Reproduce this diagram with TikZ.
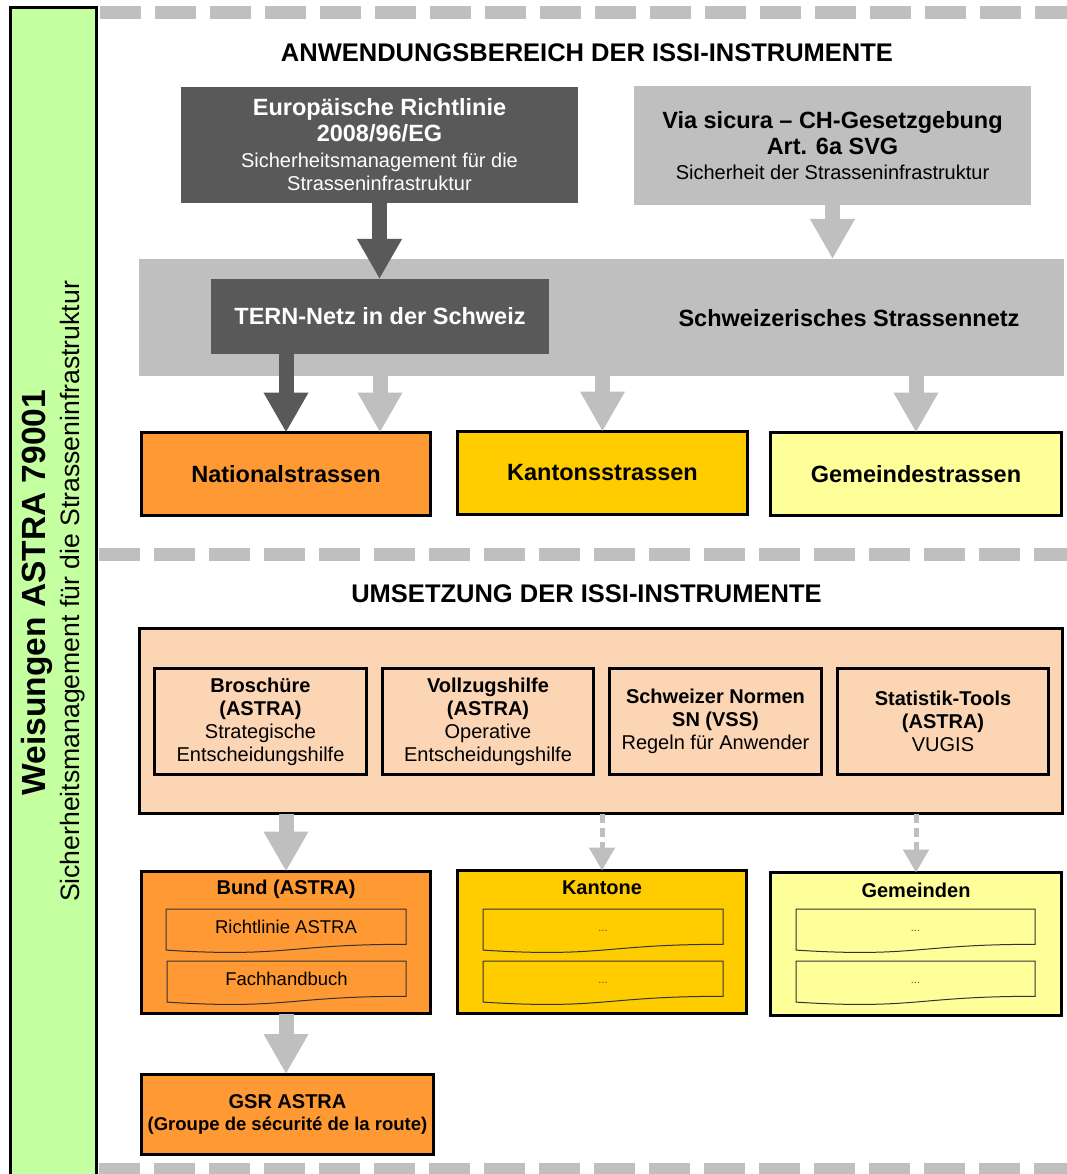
\documentclass[tikz,border=0pt]{standalone}
\usepackage{fontspec}
\setmainfont{Liberation Sans}
\usetikzlibrary{arrows.meta,calc}
\definecolor{darkg}{HTML}{595959}
\definecolor{lightg}{HTML}{BFBFBF}
\definecolor{orng}{HTML}{FF9933}
\definecolor{gold}{HTML}{FFCC00}
\definecolor{lyel}{HTML}{FFFF99}
\definecolor{peach}{HTML}{FCD5B5}
\definecolor{lgreen}{HTML}{C4FFA0}
\newcommand\fs[2]{\fontsize{#1}{#2}\selectfont}
% document shape: name, left x, top y, width, fill, text, text offset
\newcommand\mydoc[7]{%
  \filldraw[fill=#5, draw=black!80, line width=1pt] (#2,#3) -- (#2+#4,#3) -- (#2+#4,#3+35.3)
    .. controls (#2+#4/2,#3+35.3) and (#2+#4/2,#3+48.7) .. (#2,#3+41.1) -- cycle;
  \node[doctext] (#1) at (#2+#4/2,#3+#7) {#6};
}
\begin{document}
\begin{tikzpicture}[x=1pt,y=-1pt,
  box/.style={inner sep=0pt, outer sep=0pt, align=center},
  blk/.style={box, draw=black, line width=3pt},
  bigarrow/.style={line width=15pt, -{Triangle[width=42pt,length=40pt]}},
  thinarrow/.style={line width=5pt, dash pattern=on 9pt off 5pt, -{Triangle[width=25pt,length=23pt]}},
  sepline/.style={line width=13pt, draw=lightg, dash pattern=on 41pt off 14pt},
  titletext/.style={font=\fs{25.5}{30}\bfseries},
  bigtext/.style={font=\fs{23.5}{28}\bfseries},
  smalltext/.style={font=\fs{20}{23}},
  doctext/.style={font=\fs{18.5}{22}},
]
\useasboundingbox (0,0) rectangle (1067,1174);
\fill[white] (0,0) rectangle (1067,1174);

% left green bar
\fill[lgreen] (10,8) rectangle (96,1176);
\draw[line width=3pt] (10,1178) -- (10,8) -- (96,8) -- (96,1178);
\node[rotate=90, font=\fs{33.5}{36}\bfseries] (wtitle) at (37,592.5) {Weisungen ASTRA 79001};
\node[rotate=90, font=\fs{26.6}{30}] (wsub) at (73,591.5) {Sicherheitsmanagement für die Strasseninfrastruktur};

% separators
\draw[sepline] (100,13) -- (1067,13);
\draw[sepline] (99,554.5) -- (1067,554.5);
\draw[sepline] (99,1169) -- (1067,1169);

% ---------- upper part ----------
\node[titletext] (t1) at (587,53) {ANWENDUNGSBEREICH DER ISSI-INSTRUMENTE};

\node[box, fill=darkg, text=white, smalltext, minimum width=397pt, minimum height=116pt] (europ) at (379.5,145)
  {{\fs{23.5}{26}\bfseries Europäische Richtlinie}\\[3pt]{\fs{23.5}{26}\bfseries 2008/96/EG}\\[3pt]Sicherheitsmanagement für die\\Strasseninfrastruktur};
\node[box, fill=lightg, smalltext, minimum width=397pt, minimum height=119pt] (via) at (832.5,145.5)
  {{\fs{23.5}{26}\bfseries Via sicura – CH-Gesetzgebung}\\[3pt]{\fs{23.5}{26}\bfseries Art. 6a SVG}\\[2pt]Sicherheit der Strasseninfrastruktur};

\node[box, fill=lightg, minimum width=925pt, minimum height=117pt] (band) at (601.5,317.5) {};
\node[box, fill=darkg, text=white, bigtext, minimum width=338pt, minimum height=75pt] (tern) at (380,316.5) {TERN-Netz in der Schweiz};
\node[bigtext] (chnet) at (849,318) {Schweizerisches Strassennetz};

\node[blk, fill=orng, bigtext, minimum width=289pt, minimum height=83pt] (nat) at (286,474) {Nationalstrassen};
\node[blk, fill=gold, bigtext, minimum width=290pt, minimum height=83pt] (kant) at (602.5,473) {Kantonsstrassen};
\node[blk, fill=lyel, bigtext, minimum width=291pt, minimum height=83pt] (gem) at (916,474) {Gemeindestrassen};

\draw[bigarrow, darkg] (europ.south) -- (europ.south |- tern.north);
\draw[bigarrow, lightg] (via.south) -- (via.south |- band.north);
\draw[bigarrow, darkg] (tern.south -| nat.north) -- (nat.north);
\draw[bigarrow, lightg] (band.south -| tern.south) -- (nat.north -| tern.south);
\draw[bigarrow, lightg] (band.south -| kant.north) -- (kant.north);
\draw[bigarrow, lightg] (band.south -| gem.north) -- (gem.north);

% ---------- lower part ----------
\node[titletext] (t2) at (586.5,594) {UMSETZUNG DER ISSI-INSTRUMENTE};

\node[blk, fill=peach, minimum width=923pt, minimum height=185pt] (peachbox) at (601,721) {};
\node[blk, fill=peach, smalltext, minimum width=212pt, minimum height=106pt] (b1) at (260.5,721.5)
  {\bfseries Broschüre\\\bfseries (ASTRA)\\Strategische\\Entscheidungshilfe};
\node[blk, fill=peach, smalltext, minimum width=211pt, minimum height=106pt] (b2) at (488,721.5)
  {\bfseries Vollzugshilfe\\\bfseries (ASTRA)\\Operative\\Entscheidungshilfe};
\node[blk, fill=peach, smalltext, minimum width=212pt, minimum height=106pt] (b3) at (715.5,721.5)
  {\bfseries Schweizer Normen\\\bfseries SN (VSS)\\Regeln für Anwender};
\node[blk, fill=peach, smalltext, minimum width=211pt, minimum height=106pt] (b4) at (943,721.5)
  {\bfseries Statistik-Tools\\\bfseries (ASTRA)\\VUGIS};

\node[blk, fill=orng, minimum width=289pt, minimum height=142pt] (bund) at (286,942.5) {};
\node[blk, fill=gold, minimum width=289pt, minimum height=143pt] (kantone) at (602,942) {};
\node[blk, fill=lyel, minimum width=291pt, minimum height=143pt] (gemeinden) at (916,944) {};

\node[font=\fs{20}{23}\bfseries] (bundT) at (286,889) {Bund (ASTRA)};
\node[font=\fs{20}{23}\bfseries] (kantoneT) at (602,888) {Kantone};
\node[font=\fs{20}{23}\bfseries] (gemeindenT) at (916,890.5) {Gemeinden};

\mydoc{d1}{166}{909}{240}{orng}{Richtlinie ASTRA}{18}
\mydoc{d2}{167}{961}{239}{orng}{Fachhandbuch}{18}
\mydoc{d3}{483}{909}{240}{gold}{\textcolor{black!70}{\fs{11}{13}...}}{22}
\mydoc{d4}{483}{961}{240}{gold}{\textcolor{black!70}{\fs{11}{13}...}}{22}
\mydoc{d5}{796}{909}{239}{lyel}{\textcolor{black!70}{\fs{11}{13}...}}{22}
\mydoc{d6}{796}{961}{239}{lyel}{\textcolor{black!70}{\fs{11}{13}...}}{22}

\node[blk, fill=orng, minimum width=292pt, minimum height=80pt, font=\fs{20}{22}\bfseries] (gsr) at (287.5,1114)
  {GSR ASTRA\\{\fs{18.5}{22}\bfseries (Groupe de sécurité de la route)}};

\draw[bigarrow, lightg] (peachbox.south -| bund.north) -- (bund.north);
\draw[thinarrow, lightg] (peachbox.south -| kantone.north) -- (kantone.north);
\draw[thinarrow, lightg] (peachbox.south -| gemeinden.north) -- (gemeinden.north);
\draw[bigarrow, lightg] (bund.south) -- (bund.south |- gsr.north);
\end{tikzpicture}
\end{document}
